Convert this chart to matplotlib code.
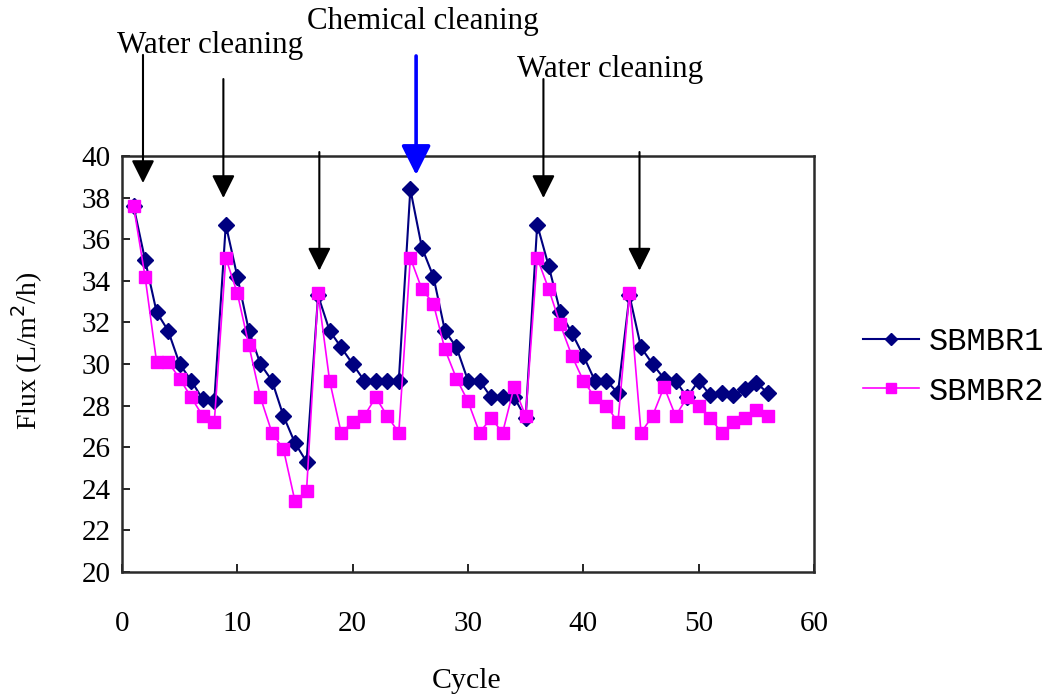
import matplotlib
matplotlib.use("Agg")
import matplotlib.pyplot as plt

# data
cycle = list(range(1, 57))
sbmbr1 = [37.6, 35.0, 32.5, 31.6, 30.0, 29.2, 28.3, 28.2, 36.7, 34.2,
          31.6, 30.0, 29.2, 27.5, 26.2, 25.3, 33.3, 31.6, 30.8, 30.0,
          29.2, 29.2, 29.2, 29.2, 38.4, 35.6, 34.2, 31.6, 30.8, 29.2,
          29.2, 28.4, 28.4, 28.4, 27.4, 36.7, 34.7, 32.5, 31.5, 30.4,
          29.2, 29.2, 28.6, 33.3, 30.8, 30.0, 29.3, 29.2, 28.4, 29.2,
          28.5, 28.6, 28.5, 28.8, 29.1, 28.6]
sbmbr2 = [37.6, 34.2, 30.1, 30.1, 29.3, 28.4, 27.5, 27.2, 35.1, 33.4,
          30.9, 28.4, 26.7, 25.9, 23.4, 23.9, 33.4, 29.2, 26.7, 27.2,
          27.5, 28.4, 27.5, 26.7, 35.1, 33.6, 32.9, 30.7, 29.3, 28.2,
          26.7, 27.4, 26.7, 28.9, 27.5, 35.1, 33.6, 31.9, 30.4, 29.2,
          28.4, 28.0, 27.2, 33.4, 26.7, 27.5, 28.9, 27.5, 28.4, 28.0,
          27.4, 26.7, 27.2, 27.4, 27.8, 27.5]

# cleaning events: (x, tail y, tip y)
water_arrows = [(1.82, 44.86, 38.70), (8.79, 43.70, 37.98), (17.11, 40.19, 34.49),
                (36.54, 43.70, 37.98), (44.87, 40.19, 34.49)]
chem_arrow = (25.5, 44.81, 39.09)

serif = 'Liberation Serif'

fig = plt.figure(figsize=(10.52, 6.97), dpi=100)
ax = fig.add_axes([122 / 1052, 1 - 572 / 697, 692 / 1052, 416 / 697])

ax.plot(cycle, sbmbr1, color='#000080', marker='D', markersize=8, lw=1.5,
        label='SBMBR1')
ax.plot(cycle, sbmbr2, color='#FF00FF', marker='s', markersize=9, lw=1.2,
        label='SBMBR2')

ax.set_xlim(0, 60)
ax.set_ylim(20, 40)
ax.set_xticks(range(0, 61, 10))
ax.set_yticks(range(20, 41, 2))
ax.tick_params(axis='both', direction='in', length=6, width=1.2,
               labelsize=21, labelfontfamily=serif)
ax.tick_params(axis='x', pad=28)
ax.tick_params(axis='y', pad=8)
for sp in ax.spines.values():
    sp.set_linewidth(1.8)
    sp.set_color('#2a2a2a')

# arrows
for x, y0, y1 in water_arrows:
    ax.annotate('', xy=(x, y1), xytext=(x, y0), annotation_clip=False,
                arrowprops=dict(arrowstyle='-|>,head_length=1.4,head_width=0.7',
                                color='black', lw=1.5, shrinkA=0, shrinkB=0))
x, y0, y1 = chem_arrow
ax.annotate('', xy=(x, y1), xytext=(x, y0), annotation_clip=False,
            arrowprops=dict(arrowstyle='-|>,head_length=1.8,head_width=0.9',
                            color='#0000FF', lw=2.6, shrinkA=0, shrinkB=0))

ax.text(-0.43, 44.97, 'Water cleaning', fontsize=22.3, family=serif,
        va='baseline', ha='left', clip_on=False)
ax.text(16.05, 46.09, 'Chemical cleaning', fontsize=22.3, family=serif,
        va='baseline', ha='left', clip_on=False)
ax.text(34.26, 43.81, 'Water cleaning', fontsize=22.3, family=serif,
        va='baseline', ha='left', clip_on=False)

fig.text(27 / 1052, 1 - 351 / 697, 'Flux (L/m$^2$/h)', rotation=90,
         ha='center', va='center', fontsize=20, family=serif)
fig.text(467 / 1052, 1 - 681 / 697, 'Cycle', ha='center', va='center',
         fontsize=21.5, family=serif)

ax.legend(loc='center left', bbox_to_anchor=(863 / 1052, 1 - 367 / 697),
          bbox_transform=fig.transFigure, frameon=False,
          prop={'family': 'Liberation Mono', 'size': 23},
          handlelength=1.75, handletextpad=0.3, labelspacing=0.6,
          borderpad=0, borderaxespad=0, markerscale=0.8)

fig.savefig('out.png', dpi=100)
